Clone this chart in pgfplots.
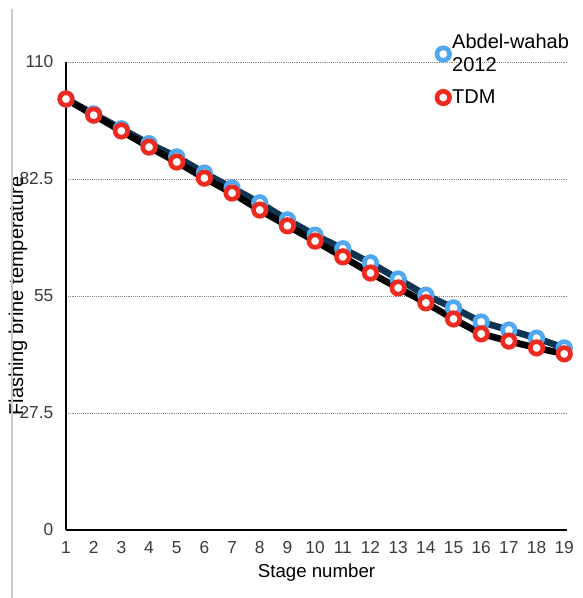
\documentclass[border=0pt]{standalone}
\usepackage{pgfplots}
\pgfplotsset{compat=1.18}
\usepackage{pgfplotstable}
\usepackage{fontspec}
\setmainfont{Liberation Sans}

\definecolor{awblue}{HTML}{4FA8F0}
\definecolor{awline}{HTML}{0E3552}
\definecolor{tdmred}{HTML}{EE2B1E}
\definecolor{tickgray}{HTML}{3A3A3A}

% stage, Abdel-wahab 2012, TDM
\pgfplotstableread{
stage aw    tdm
1     101.3 101.3
2     97.8  97.5
3     94.3  93.8
4     90.8  90.0
5     87.7  86.5
6     83.9  82.7
7     80.4  79.2
8     76.9  75.2
9     72.9  71.5
10    69.3  67.9
11    66.1  64.2
12    62.8  60.4
13    59.0  56.9
14    55.2  53.4
15    52.2  49.6
16    48.9  46.1
17    47.0  44.4
18    45.1  42.8
19    42.8  41.4
}\tempdata

\begin{document}
\begin{tikzpicture}
  \begin{axis}[
    scale only axis,
    width=375.75pt, height=351pt,
    xmin=1, xmax=19.1,
    ymin=0, ymax=110,
    clip=false,
    axis x line*=bottom,
    axis y line*=left,
    axis line style={line width=1.3pt, black},
    xtick={1,...,19},
    ytick={0,27.5,55,82.5,110},
    yticklabels={0,27.5,55,82.5,110},
    major tick length=0pt,
    ymajorgrids,
    grid style={densely dotted, black!45, line width=0.6pt},
    /pgf/number format/assume math mode=true,
    ticklabel style={font=\fontsize{13}{14}\selectfont, text=tickgray},
    xticklabel style={yshift=-5pt},
    yticklabel style={xshift=-6pt},
    xlabel={Stage number},
    ylabel={Flashing brine temperature},
    every axis x label/.style={at={([yshift=-32pt]axis description cs:0.5,0)},
      anchor=center, font=\fontsize{14}{16}\selectfont},
    every axis y label/.style={at={([xshift=-36pt]axis description cs:0,0.5)},
      rotate=90, anchor=center, font=\fontsize{15}{17}\selectfont},
    legend style={at={(axis description cs:0.74,1.065)}, anchor=north west,
      draw=none, fill=none, font=\fontsize{15}{17}\selectfont,
      cells={anchor=west, align=left}, row sep=8pt,
      inner sep=0pt},
    legend image code/.code={\draw[#1] plot coordinates {(0.15cm,0cm)};},
  ]
    \addplot[awline, line width=5pt, mark=*, mark size=4.7pt,
      mark options={draw=awblue, fill=white, line width=3.5pt}]
      table[x=stage, y=aw] {\tempdata};
    \addlegendentry{Abdel-wahab\\2012}

    \addplot[black, line width=5pt, mark=*, mark size=4.7pt,
      mark options={draw=tdmred, fill=white, line width=3.5pt}]
      table[x=stage, y=tdm] {\tempdata};
    \addlegendentry{TDM}
  \end{axis}
  \draw[black!20, line width=1.5pt]
    ([xshift=-40.5pt, yshift=40pt]current axis.north west) --
    ([xshift=-40.5pt, yshift=-51pt]current axis.south west);
  \pgfresetboundingbox
  \path ([shift={(-49.5pt,-51pt)}]current axis.south west) rectangle
        ([shift={(11.25pt,46.5pt)}]current axis.north east);
\end{tikzpicture}
\end{document}
